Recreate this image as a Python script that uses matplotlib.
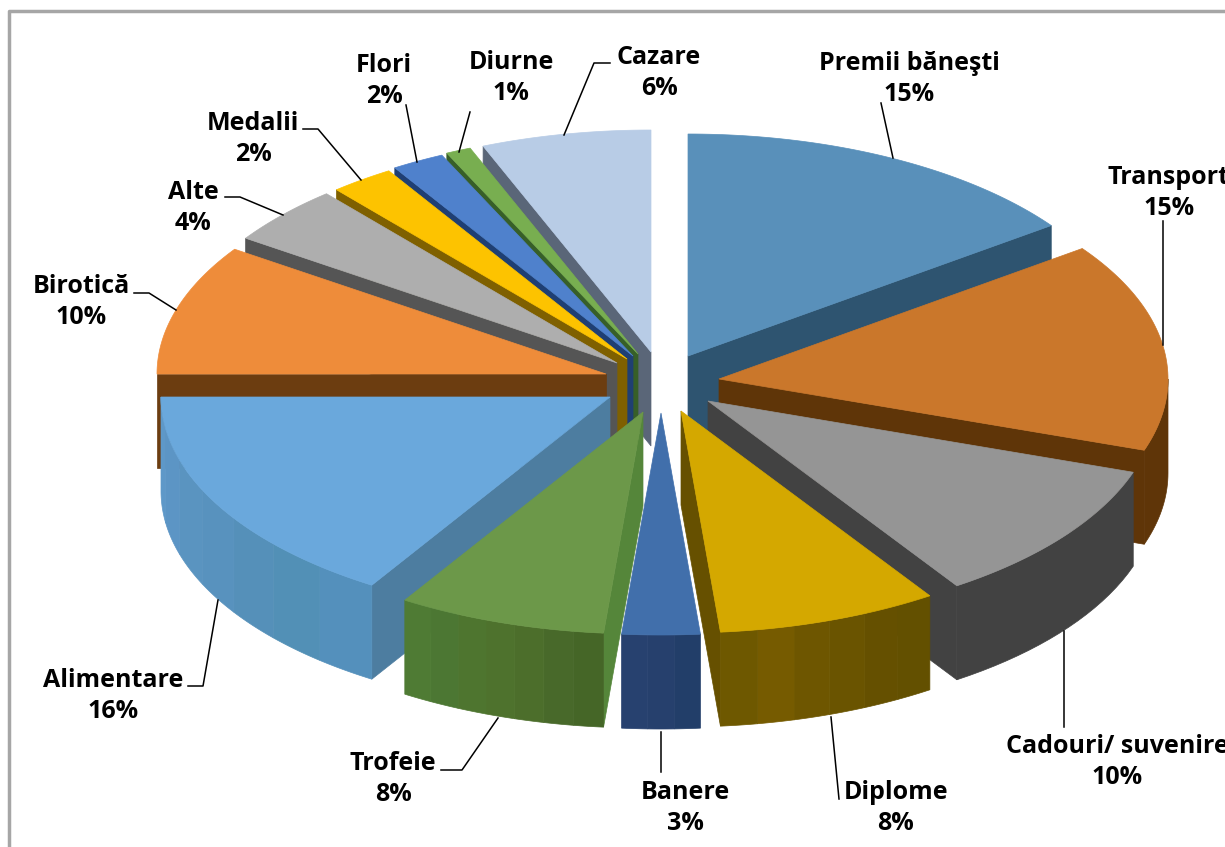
import numpy as np
from matplotlib import pyplot as plt

names = ['Premii băneşti', 'Transport', 'Cadouri/ suvenire', 'Diplome', 'Banere', 'Trofeie',
         'Alimentare', 'Birotică', 'Alte', 'Medalii', 'Flori', 'Diurne', 'Cazare']
values = [15.0, 15.2, 10.45, 7.95, 2.8, 7.5, 16.1, 9.5, 4.3, 2.3, 1.9, 0.9, 6.1]
shown_pct = [15, 15, 10, 8, 3, 8, 16, 10, 4, 2, 2, 1, 6]

# where each exploded slice has its tip, in pixels
tips = [(688, 356), (719, 379), (708, 401), (681, 411), (661, 413), (643, 412), (610, 397),
        (606, 374), (617, 363), (627, 359), (633, 356), (638, 354), (651, 352)]
top_colors = ['#5990BA', '#CA772B', '#959595', '#D4A800', '#416FAB', '#6C9849', '#6AA8DC',
              '#EE8C3A', '#AEAEAE', '#FDC300', '#4F81CC', '#78AE50', '#B8CCE6']
wall_colors = ['#2E5470', '#5F3508', '#424242', '#665000', '#25406E', '#55863A', '#4D7DA0',
               '#6C3D10', '#555555', '#7F6000', '#1F3F73', '#375F28', '#5A6678']
# band colours of the curved walls, left to right as seen
rim_colors = [['#2E5470'], ['#5F3508'], ['#424242'],
              ['#6E5800', '#765B00', '#6E5600', '#6A5400', '#655000', '#635000'],
              ['#27416F', '#26406D', '#223E69'],
              ['#4F7B34', '#4C7733', '#4E752F', '#4E722D', '#4C6E2B', '#48692A', '#456627'],
              ['#5E98C8', '#5C95C5', '#5A94C0', '#5892BE', '#5590B9', '#5290B6', '#5490BC'],
              ['#6C3D10'], ['#555555'], ['#7F6000'], ['#1F3F73'], ['#375F28'], ['#5A6678']]

label_pos = [(909, 79), (1169, 193), (1117, 762), (896, 808), (685, 808), (393, 779), (113, 696),
             (81, 302), (193, 208), (253, 139), (384, 81), (511, 78), (659, 73)]
leaders = [[(881, 103), (893, 158)],
           [(1163, 221), (1163, 345)],
           [(1064, 727), (1064, 631)],
           [(839, 799), (831, 717)],
           [(661, 772), (661, 732)],
           [(441, 770), (462, 770), (498, 718)],
           [(188, 686), (203, 686), (218, 600)],
           [(134, 293), (149, 293), (176, 310)],
           [(225, 197), (240, 197), (283, 215)],
           [(303, 129), (318, 129), (361, 180)],
           [(406, 105), (417, 162)],
           [(470, 112), (459, 152)],
           [(610, 63), (594, 63), (564, 135)]]

rx = 449
ry = 222
depth = 94

plt.rcParams['font.family'] = ['Open Sans', 'DejaVu Sans']
fig = plt.figure(figsize=(12.25, 8.47), dpi=100)
ax = fig.add_axes([0, 0, 1, 1])
ax.set_xlim(0, 1225)
ax.set_ylim(847, 0)
ax.axis('off')


def rim(tip, a, b, n=60):
    t = np.radians(np.linspace(a, b, n))
    return tip[0] + rx * np.sin(t), tip[1] - ry * np.cos(t)


def shape(xs, ys, color, z):
    ax.fill(xs, ys, facecolor=color, edgecolor=color, linewidth=0.5, zorder=z)


# frame
ax.plot([9, 9, 1240], [860, 11, 11], color='#A6A6A6', linewidth=2.5, zorder=0)

edges = np.concatenate([[0], np.cumsum(values)]) * 3.6
mids = (edges[:-1] + edges[1:]) / 2
# back slices first
order = np.argsort(-np.cos(np.radians(mids)))

for z, i in enumerate(order):
    a, b = edges[i], edges[i + 1]
    tip = tips[i]
    base = 10 + z * 5

    # straight walls, only where they face the viewer
    for ang, visible in ((a, np.sin(np.radians(a)) < 0), (b, np.sin(np.radians(b)) > 0)):
        if visible:
            x1, y1 = rim(tip, ang, ang, 1)
            xs = [tip[0], x1[0], x1[0], tip[0]]
            ys = [tip[1], y1[0], y1[0] + depth, tip[1] + depth]
            shape(xs, ys, wall_colors[i], base)

    # curved wall, cut in bands along the rim
    lo, hi = max(a, 90), min(b, 270)
    if lo < hi:
        bands = rim_colors[i][::-1]
        steps = np.linspace(lo, hi, len(bands) + 1)
        for k, col in enumerate(bands):
            x1, y1 = rim(tip, steps[k], steps[k + 1], 20)
            xs = np.concatenate([x1, x1[::-1]])
            ys = np.concatenate([y1, y1[::-1] + depth])
            shape(xs, ys, col, base + 1)

    # top
    x1, y1 = rim(tip, a, b)
    shape(np.concatenate([[tip[0]], x1]), np.concatenate([[tip[1]], y1]), top_colors[i], base + 2)

for i in range(len(names)):
    pts = np.array(leaders[i])
    ax.plot(pts[:, 0], pts[:, 1], color='black', linewidth=1.1, zorder=200)
    ax.text(label_pos[i][0], label_pos[i][1], f'{names[i]}\n{shown_pct[i]}%', ha='center', va='center',
            fontsize=18, fontweight='bold', color='black', linespacing=1.28, zorder=201)

plt.savefig('out.png', dpi=100)
